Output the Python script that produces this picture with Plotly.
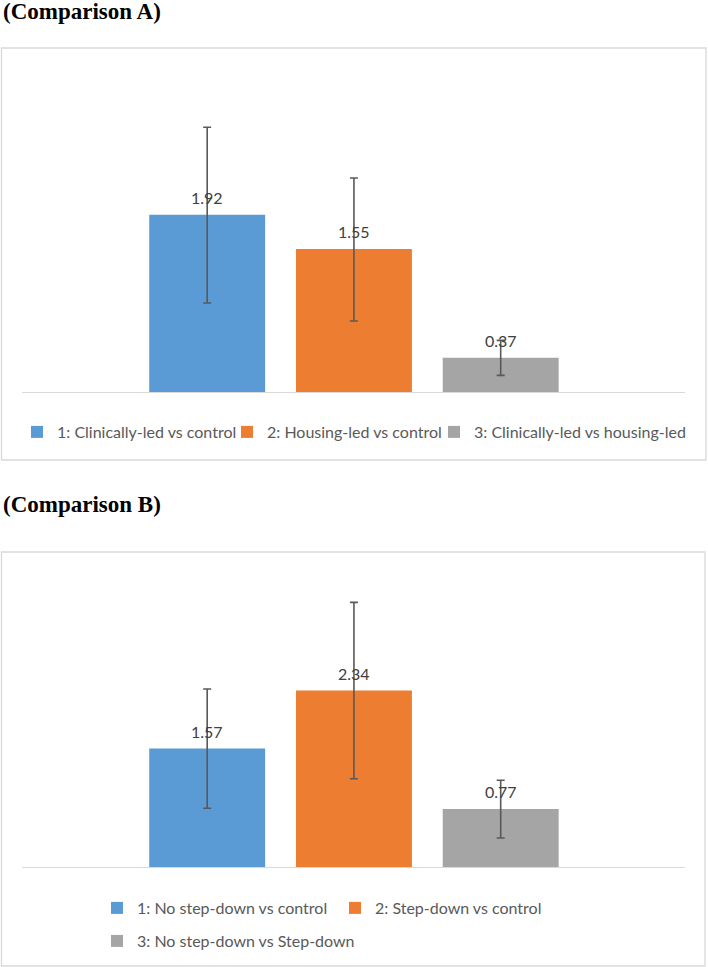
import plotly.graph_objects as go

W, H = 708, 967

# ---------------- data ----------------
titles = ["(Comparison A)", "(Comparison B)"]

labels_a = ["1: Clinically-led vs control", "2: Housing-led vs control",
            "3: Clinically-led vs housing-led"]
values_a = [1.92, 1.55, 0.37]
err_plus_a = [0.95, 0.77, 0.19]
err_minus_a = [0.955, 0.78, 0.19]

labels_b = ["1: No step-down vs control", "2: Step-down vs control",
            "3: No step-down vs Step-down"]
values_b = [1.57, 2.34, 0.77]
err_plus_b = [0.79, 1.17, 0.38]
err_minus_b = [0.79, 1.17, 0.385]

colors = ["#5B9BD5", "#ED7D31", "#A5A5A5"]


# ---------------- helpers (layout only) ----------------
def px_x(x):
    return x / W


def px_y(y):
    return 1 - y / H


LABEL_FONT = dict(family="Lato", size=16, color="#404040")
LEGEND_FONT = dict(family="Lato", size=16, color="#595959")

fig = go.Figure()

panels = [
    dict(labels=labels_a, values=values_a, ep=err_plus_a, em=err_minus_a,
         xa="x", ya="y", legends=["legend", "legend2", "legend3"]),
    dict(labels=labels_b, values=values_b, ep=err_plus_b, em=err_minus_b,
         xa="x2", ya="y2", legends=["legend4", "legend5", "legend6"]),
]

annotations = []
for p in panels:
    for i, (lab, v, ep, em) in enumerate(zip(p["labels"], p["values"], p["ep"], p["em"])):
        fig.add_trace(go.Bar(
            x=[i], y=[v], width=0.79, name=lab,
            marker=dict(color=colors[i], line=dict(width=0)),
            error_y=dict(type="data", symmetric=False, array=[ep], arrayminus=[em],
                         color="#595959", thickness=1.6, width=4),
            xaxis=p["xa"], yaxis=p["ya"], legend=p["legends"][i],
            showlegend=True, hoverinfo="skip",
        ))
        annotations.append(dict(
            x=i, y=v, xref=p["xa"], yref=p["ya"], text=f"{v:.2f}",
            showarrow=False, yanchor="middle", xanchor="center", yshift=17,
            font=LABEL_FONT,
        ))

# titles
TITLE_FONT = dict(family="Liberation Serif", size=23, color="#000000")
annotations.append(dict(x=px_x(1), y=px_y(11.5), xref="paper", yref="paper",
                        text=f"<b>{titles[0]}</b>", showarrow=False,
                        xanchor="left", yanchor="middle", font=TITLE_FONT))
annotations.append(dict(x=px_x(1), y=px_y(504), xref="paper", yref="paper",
                        text=f"<b>{titles[1]}</b>", showarrow=False,
                        xanchor="left", yanchor="middle", font=TITLE_FONT))

# panel frames
shapes = [
    dict(type="rect", xref="paper", yref="paper",
         x0=px_x(1.5), x1=px_x(706), y0=px_y(460), y1=px_y(48),
         line=dict(color="#D9D9D9", width=1.3), fillcolor="rgba(0,0,0,0)", layer="below"),
    dict(type="rect", xref="paper", yref="paper",
         x0=px_x(1.5), x1=px_x(705), y0=px_y(966), y1=px_y(552),
         line=dict(color="#D9D9D9", width=1.3), fillcolor="rgba(0,0,0,0)", layer="below"),
]

# axes geometry
x_left, x_right = 22, 685
xrange = [-1.262, 3.256]
ax_common = dict(showline=True, linecolor="#D9D9D9", linewidth=1, showticklabels=False,
                 ticks="", showgrid=False, zeroline=False, range=xrange, fixedrange=True)
ay_common = dict(showline=False, showticklabels=False, ticks="", showgrid=False,
                 zeroline=False, fixedrange=True)

base_a, ppu_a, ymax_a = 392, 92.26, 3.5
base_b, ppu_b, ymax_b = 867, 75.4, 4.0

# legend boxes: left edge (px) and row centre (px)
layout_legends = {}
legend_pos = [(17, 432), (227, 432), (434, 432), (97, 908), (335, 908), (97, 941)]
for k, (lx, ly) in enumerate(legend_pos):
    key = "legend" if k == 0 else f"legend{k + 1}"
    layout_legends[key] = dict(
        x=px_x(lx), y=px_y(ly), xanchor="left", yanchor="middle",
        orientation="h", bgcolor="rgba(0,0,0,0)", borderwidth=0,
        font=LEGEND_FONT, xref="paper", yref="paper",
    )

fig.update_layout(
    width=W, height=H, margin=dict(l=0, r=0, t=0, b=0),
    paper_bgcolor="white", plot_bgcolor="white",
    barmode="overlay", showlegend=True,
    xaxis=dict(domain=[px_x(x_left), px_x(x_right)], anchor="y", **ax_common),
    yaxis=dict(domain=[px_y(base_a), px_y(base_a - ymax_a * ppu_a)], range=[0, ymax_a],
               anchor="x", **ay_common),
    xaxis2=dict(domain=[px_x(x_left), px_x(x_right)], anchor="y2", **ax_common),
    yaxis2=dict(domain=[px_y(base_b), px_y(base_b - ymax_b * ppu_b)], range=[0, ymax_b],
                anchor="x2", **ay_common),
    annotations=annotations,
    shapes=shapes,
    **layout_legends,
)

fig.write_html("out.html")
